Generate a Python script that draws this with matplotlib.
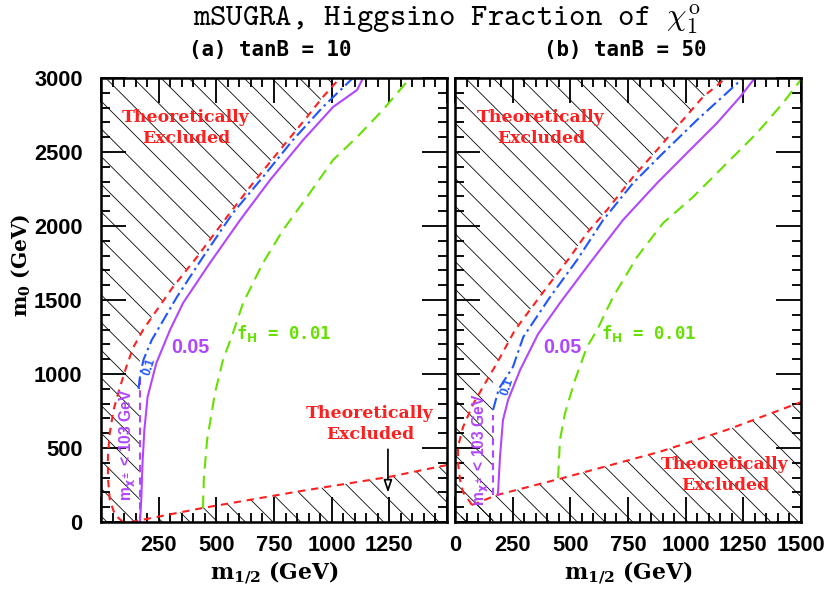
import numpy as np
import matplotlib
matplotlib.use("Agg")
import matplotlib.pyplot as plt
from matplotlib.font_manager import FontProperties
from matplotlib.ticker import MultipleLocator, FixedLocator, FixedFormatter

plt.rcParams["hatch.linewidth"] = 0.7
plt.rcParams["mathtext.fontset"] = "dejavusans"

# ---- panel (a): tanB = 10 (m_1/2, m_0 in GeV) ----
a_up_x = [95, 60, 38, 30, 30, 38, 55, 80, 110, 140, 182, 250, 312, 416, 546, 659, 776, 893, 962, 1036]
a_up_y = [0, 50, 150, 300, 450, 600, 760, 900, 1050, 1180, 1297, 1450, 1588, 1790, 2061, 2290, 2514, 2736, 2872, 3000]
a_lo_x = [130, 442, 850, 1250, 1500]
a_lo_y = [0, 95, 205, 305, 385]
a_lep_x = [168, 168]
a_lep_y = [0, 990]
a_f01_x = [163, 170, 185, 220, 329, 442, 572, 702, 832, 962, 1092]
a_f01_y = [900, 1000, 1100, 1230, 1520, 1790, 2088, 2331, 2581, 2804, 3000]
a_f005_x = [169, 175, 180, 188, 202, 240, 299, 356, 472, 603, 733, 876, 1006, 1110, 1136]
a_f005_y = [0, 169, 399, 622, 845, 1074, 1297, 1480, 1750, 2040, 2311, 2581, 2804, 2919, 3000]
a_f001_x = [442, 446, 460, 494, 529, 572, 616, 702, 789, 893, 1006, 1110, 1222, 1340]
a_f001_y = [95, 300, 554, 871, 1095, 1277, 1480, 1750, 1973, 2196, 2446, 2601, 2784, 3000]

# ---- panel (b): tanB = 50 ----
b_up_x = [74, 35, 22, 13, 13, 35, 80, 121, 182, 260, 399, 499, 572, 659, 772, 876, 988, 1075, 1149, 1170]
b_up_y = [115, 200, 284, 400, 507, 642, 800, 912, 1074, 1297, 1588, 1790, 1953, 2108, 2331, 2514, 2716, 2872, 2966, 3000]
b_lo_x = [74, 181, 462, 889, 1178, 1500]
b_lo_y = [115, 182, 295, 475, 622, 810]
b_lep_x = [165, 165]
b_lep_y = [180, 720]
b_f01_x = [165, 190, 251, 296, 412, 529, 642, 772, 902, 1049, 1192, 1249]
b_f01_y = [757, 900, 1047, 1250, 1520, 1770, 2040, 2290, 2493, 2716, 2919, 3000]
b_f005_x = [186, 195, 208, 230, 282, 360, 455, 585, 728, 876, 1019, 1136, 1236, 1300]
b_f005_y = [182, 439, 689, 824, 1027, 1270, 1480, 1750, 2040, 2290, 2514, 2696, 2872, 3000]
b_f001_x = [447, 455, 477, 520, 572, 616, 685, 789, 902, 1032, 1162, 1309, 1422, 1500]
b_f001_y = [297, 554, 736, 959, 1182, 1297, 1520, 1790, 2020, 2196, 2399, 2628, 2831, 2990]

x_ticks = [0, 250, 500, 750, 1000, 1250, 1500]

RED = "#ff1f1f"
BLUE = "#1f55ff"
PURPLE = "#b146ff"
GREEN = "#66e000"

tick_font = dict(family="Liberation Sans", weight="bold", size=19)
exc_font = dict(family="DejaVu Serif", weight="bold", size=15)


def draw_panel(ax, up_x, up_y, lo_x, lo_y, lep_x, lep_y, f01_x, f01_y,
               f005_x, f005_y, f001_x, f001_y):
    up_x = np.asarray(up_x)
    up_y = np.asarray(up_y)
    # hatched excluded regions: upper-left (theory + LEP) and lower wedge
    keep = up_x > lep_x[0]
    hx = np.r_[0, lep_x[0], lep_x[0], up_x[keep], 0]
    hy = np.r_[0, 0, up_y[keep][0] - 40, up_y[keep], 3000]
    ax.fill(hx, hy, facecolor="none", edgecolor="black", lw=0, hatch="\\")
    lx = np.r_[0, lo_x, 1500]
    ly = np.r_[0, lo_y, 0]
    ax.fill(lx, ly, facecolor="none", edgecolor="black", lw=0, hatch="\\")

    ax.plot(up_x, up_y, color=RED, lw=1.8, dashes=(3.5, 2.8))
    ax.plot(lo_x, lo_y, color=RED, lw=1.8, dashes=(3.5, 2.8))
    ax.plot(lep_x, lep_y, color=PURPLE, lw=1.8, dashes=(3.5, 2.5))
    ax.plot(f01_x, f01_y, color=BLUE, lw=1.8, dashes=(6, 2, 1.2, 2))
    ax.plot(f005_x, f005_y, color=PURPLE, lw=1.8)
    ax.plot(f001_x, f001_y, color=GREEN, lw=1.8, dashes=(6, 3.5))

    ax.set_xlim(0, 1500)
    ax.set_ylim(0, 3000)
    ax.xaxis.set_major_locator(MultipleLocator(250))
    ax.xaxis.set_minor_locator(MultipleLocator(50))
    ax.yaxis.set_major_locator(MultipleLocator(500))
    ax.yaxis.set_minor_locator(MultipleLocator(100))
    ax.tick_params(which="both", direction="in", top=True, right=True,
                   width=1.6, colors="black")
    ax.tick_params(which="major", length=22)
    ax.tick_params(which="minor", length=7.5)
    ax.tick_params(axis="x", which="major", pad=11)
    ax.tick_params(axis="y", which="major", pad=16)
    for s in ax.spines.values():
        s.set_linewidth(2.2)
    ax.set_xlabel(r"m$_\mathbf{1/2}$ (GeV)", family="DejaVu Serif",
                  weight="bold", size=19, labelpad=3,
                  math_fontfamily="dejavuserif")


fig = plt.figure(figsize=(10, 593 / 83), dpi=83)
axA = fig.add_axes([101 / 830, 71 / 593, 346 / 830, 444 / 593])
axB = fig.add_axes([455 / 830, 71 / 593, 346 / 830, 444 / 593])

draw_panel(axA, a_up_x, a_up_y, a_lo_x, a_lo_y, a_lep_x, a_lep_y,
           a_f01_x, a_f01_y, a_f005_x, a_f005_y, a_f001_x, a_f001_y)
draw_panel(axB, b_up_x, b_up_y, b_lo_x, b_lo_y, b_lep_x, b_lep_y,
           b_f01_x, b_f01_y, b_f005_x, b_f005_y, b_f001_x, b_f001_y)

axA.xaxis.set_major_locator(FixedLocator(x_ticks))
axA.xaxis.set_major_formatter(FixedFormatter([""] + [str(t) for t in x_ticks[1:-1]] + [""]))
axB.set_yticklabels([])
for ax in (axA, axB):
    for lab in ax.get_xticklabels() + ax.get_yticklabels():
        lab.set_fontproperties(FontProperties(**tick_font))

# panel (a) annotations
axA.text(368, 2662, "Theoretically\nExcluded", color=RED, ha="center", va="center",
         linespacing=1.25, **exc_font)
axA.text(1166, 662, "Theoretically\nExcluded", color=RED, ha="center", va="center",
         linespacing=1.25, **exc_font)
axA.annotate("", xy=(1244, 182), xytext=(1244, 507),
             arrowprops=dict(arrowstyle="-|>,head_length=0.9,head_width=0.3",
                             fc="white", ec="black", lw=1.5))
axA.text(386, 1176, "0.05", color=PURPLE, ha="center", va="center",
         family="Liberation Sans", weight="bold", size=17)
axA.text(793, 1277, r"f$_\mathbf{H}$ = 0.01", color=GREEN, ha="center", va="center",
         family="DejaVu Sans Mono", weight="bold", size=15, math_fontfamily="dejavusans")
axA.text(208, 1047, "0.1", color=BLUE, ha="center", va="center", rotation=72,
         family="Liberation Sans", weight="bold", size=11)
axA.text(117, 520, r"m$_{\mathbf{\chi^\pm}}$ < 103 GeV", color=PURPLE, ha="center",
         va="center", rotation=90, family="Liberation Sans", weight="bold", size=13.5)

# panel (b) annotations
axB.text(373, 2662, "Theoretically\nExcluded", color=RED, ha="center", va="center",
         linespacing=1.25, **exc_font)
axB.text(1170, 318, "Theoretically\nExcluded", color=RED, ha="center", va="center",
         linespacing=1.25, **exc_font)
axB.text(464, 1176, "0.05", color=PURPLE, ha="center", va="center",
         family="Liberation Sans", weight="bold", size=17)
axB.text(837, 1277, r"f$_\mathbf{H}$ = 0.01", color=GREEN, ha="center", va="center",
         family="DejaVu Sans Mono", weight="bold", size=15, math_fontfamily="dejavusans")
axB.text(225, 912, "0.1", color=BLUE, ha="center", va="center", rotation=72,
         family="Liberation Sans", weight="bold", size=11)
axB.text(113, 486, r"m$_{\mathbf{\chi^\pm}}$ < 103 GeV", color=PURPLE, ha="center",
         va="center", rotation=90, family="Liberation Sans", weight="bold", size=13.5)

# titles
fig.text(447 / 830, 1 - 20 / 593, r"mSUGRA, Higgsino Fraction of $\chi^{\rm o}_1$",
         ha="center", va="center", family="cmtt10", size=27, math_fontfamily="cm")
fig.text(270 / 830, 1 - 50 / 593, "(a) tanB = 10", ha="center", va="center",
         family="DejaVu Sans Mono", weight="bold", size=18)
fig.text(625 / 830, 1 - 50 / 593, "(b) tanB = 50", ha="center", va="center",
         family="DejaVu Sans Mono", weight="bold", size=18)
fig.text(21 / 830, 1 - 265 / 593, r"m$_\mathbf{0}$ (GeV)", rotation=90, ha="center",
         va="center", family="DejaVu Serif", weight="bold", size=17.5,
         math_fontfamily="dejavuserif")

fig.savefig("out.png", dpi=83)
